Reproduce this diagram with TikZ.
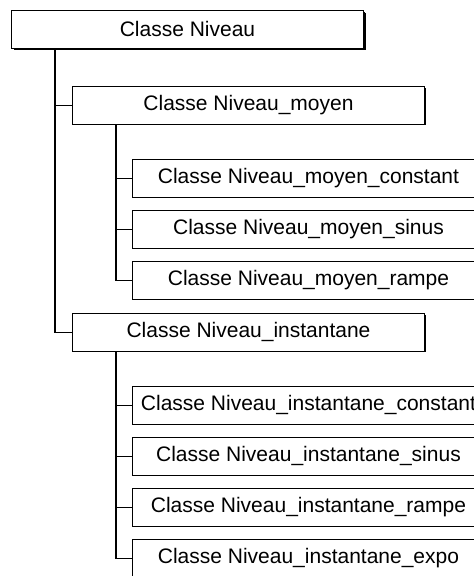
\documentclass[tikz,border=0pt]{standalone}
\usepackage{fontspec}
\setmainfont{Liberation Sans}
\usetikzlibrary{shadows}
\tikzset{
  cls/.style={draw, fill=white, line width=1pt, rectangle, anchor=north west,
    minimum width=352pt, minimum height=37.5pt, inner sep=0pt,
    font=\fontsize{21}{25}\selectfont,
    drop shadow={shadow xshift=1.2pt, shadow yshift=-1.2pt, fill=black, opacity=1}},
  topcls/.style={cls, drop shadow={shadow xshift=2.4pt, shadow yshift=-2.4pt, fill=black, opacity=1}},
  link/.style={draw, line width=1.2pt}
}
\begin{document}
\begin{tikzpicture}[x=1pt,y=-1pt]
\useasboundingbox (0,0) rectangle (474,576);
\clip (0,0) rectangle (474,576);
\node[topcls] (b1) at (11,10) {Classe Niveau};
\node[cls] (b2) at (72,86) {Classe Niveau\_moyen};
\node[cls] (mc) at (132,159) {Classe Niveau\_moyen\_constant};
\node[cls] (ms) at (132,210) {Classe Niveau\_moyen\_sinus};
\node[cls] (mr) at (132,261) {Classe Niveau\_moyen\_rampe};
\node[cls] (b3) at (72,313) {Classe Niveau\_instantane};
\node[cls] (ic) at (132,386) {Classe Niveau\_instantane\_constant};
\node[cls] (is) at (132,437) {Classe Niveau\_instantane\_sinus};
\node[cls] (ir) at (132,488) {Classe Niveau\_instantane\_rampe};
\node[cls] (ie) at (132,539) {Classe Niveau\_instantane\_expo};
% level 1
\path[link] ([xshift=44pt]b1.south west) |- (b3.west);
\path[link] ([xshift=44pt]b1.south west |- b2.west) -- (b2.west);
% level 2 moyen
\path[link] ([xshift=44pt]b2.south west) |- (mr.west);
\path[link] ([xshift=44pt]b2.south west |- mc.west) -- (mc.west);
\path[link] ([xshift=44pt]b2.south west |- ms.west) -- (ms.west);
% level 2 instantane
\path[link] ([xshift=44pt]b3.south west) |- (ie.west);
\path[link] ([xshift=44pt]b3.south west |- ic.west) -- (ic.west);
\path[link] ([xshift=44pt]b3.south west |- is.west) -- (is.west);
\path[link] ([xshift=44pt]b3.south west |- ir.west) -- (ir.west);
\end{tikzpicture}
\end{document}
